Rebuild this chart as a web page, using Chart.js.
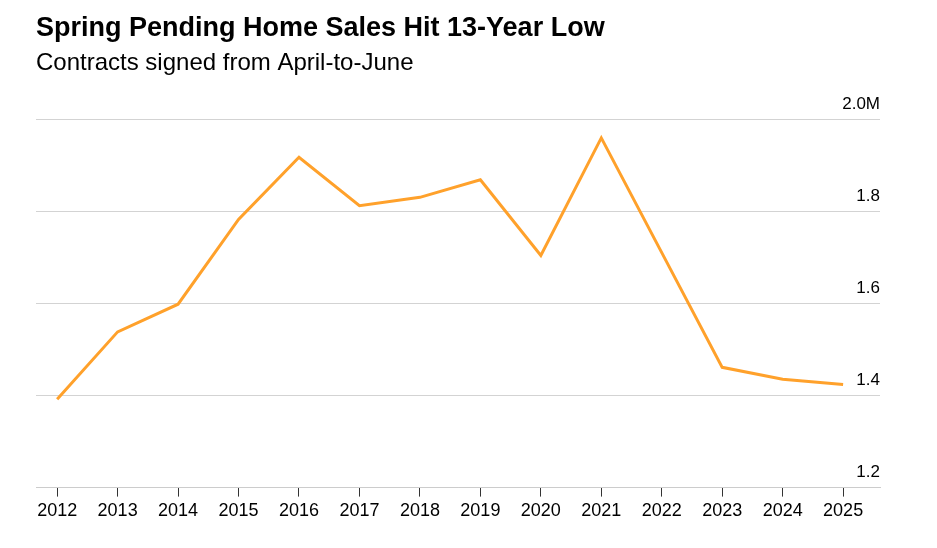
<!DOCTYPE html>
<html>
<head>
<meta charset="utf-8">
<script src="https://cdn.jsdelivr.net/npm/chart.js@4.4.1/dist/chart.umd.min.js"></script>
<style>
  html, body { margin: 0; padding: 0; background: #fff; }
  #wrap { width: 937px; height: 548px; position: relative; }
</style>
</head>
<body>
<div id="wrap"><canvas id="c"></canvas></div>
<script>
const titleText = "Spring Pending Home Sales Hit 13-Year Low";
const subtitleText = "Contracts signed from April-to-June";
const years = [2012, 2013, 2014, 2015, 2016, 2017, 2018, 2019, 2020, 2021, 2022, 2023, 2024, 2025];
const pendingSales = [1.392, 1.538, 1.598, 1.782, 1.917, 1.812, 1.830, 1.868, 1.704, 1.959, 1.710, 1.461, 1.435, 1.424];
const yTicks = [1.2, 1.4, 1.6, 1.8, 2.0];
const yTickLabels = ["1.2", "1.4", "1.6", "1.8", "2.0M"];

const FONT = "'Liberation Sans', Arial, sans-serif";

const points = years.map((y, i) => ({ x: y, y: pendingSales[i] }));

new Chart(document.getElementById('c'), {
  type: 'line',
  data: {
    datasets: [{
      data: points,
      borderColor: '#ffa12b',
      borderWidth: 3,
      pointRadius: 0,
      tension: 0,
      fill: false,
      borderJoinStyle: 'miter'
    }]
  },
  options: {
    responsive: true,
    maintainAspectRatio: false,
    animation: false,
    layout: { padding: { left: 36, right: 57, top: 0, bottom: 21.8 } },
    plugins: {
      legend: { display: false },
      tooltip: { enabled: false },
      title: {
        display: true,
        text: titleText,
        align: 'start',
        color: '#000',
        font: { family: FONT, size: 27, weight: 'bold' },
        padding: { top: 12, bottom: 2 }
      },
      subtitle: {
        display: true,
        text: subtitleText,
        align: 'start',
        color: '#000',
        font: { family: FONT, size: 24, weight: 'normal' },
        padding: { top: 2.2, bottom: 41.6 }
      }
    },
    scales: {
      x: {
        type: 'linear',
        min: 2011.65,
        max: 2025.61,
        grid: {
          drawOnChartArea: false,
          drawTicks: true,
          tickLength: 9,
          tickColor: '#333',
          tickWidth: 1
        },
        border: { display: true, color: '#cccccc', width: 1 },
        ticks: {
          stepSize: 1,
          includeBounds: false,
          autoSkip: false,
          maxRotation: 0,
          padding: 4,
          color: '#000',
          font: { family: FONT, size: 18 },
          callback: (v) => String(v)
        },
        afterBuildTicks: (axis) => { axis.ticks = years.map(y => ({ value: y })); }
      },
      y: {
        position: 'right',
        min: 1.2,
        max: 2.0,
        grid: { color: '#d3d3d3', lineWidth: 1, drawTicks: false },
        border: { display: false },
        afterBuildTicks: (axis) => { axis.ticks = yTicks.map(v => ({ value: v })); },
        ticks: {
          mirror: true,
          padding: 0,
          labelOffset: -15,
          color: '#000',
          font: { family: FONT, size: 17 },
          callback: (v) => {
            const i = yTicks.findIndex(t => Math.abs(t - v) < 1e-6);
            return i >= 0 ? yTickLabels[i] : '';
          }
        }
      }
    }
  }
});
</script>
</body>
</html>
